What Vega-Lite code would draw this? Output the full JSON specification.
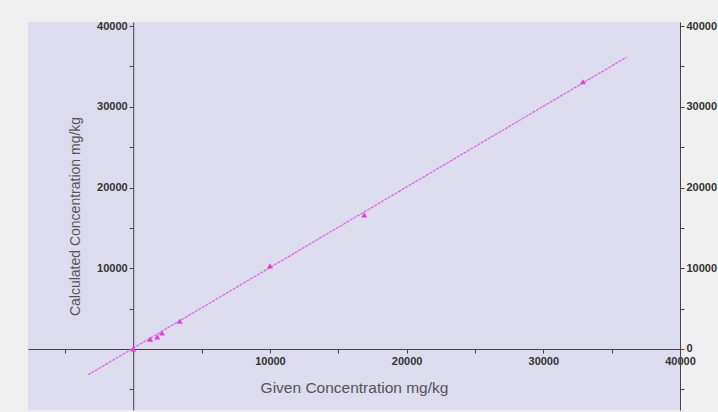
{
  "$schema": "https://vega.github.io/schema/vega-lite/v6.json",
  "width": 652,
  "height": 388,
  "autosize": {"type": "none"},
  "padding": {"left": 28, "top": 22, "right": 38, "bottom": 2},
  "background": "#efefef",
  "config": {
    "view": {"fill": "#dcdcee", "stroke": null},
    "axis": {
      "grid": false,
      "domainColor": "#444",
      "tickColor": "#444",
      "tickSize": 4,
      "labelFlush": false,
      "labelOverlap": false,
      "labelFont": "Liberation Sans",
      "labelFontWeight": "bold",
      "labelFontSize": 11,
      "labelColor": "#333",
      "titleFont": "Liberation Sans",
      "titleFontWeight": "normal",
      "titleFontSize": 14,
      "titleColor": "#555"
    }
  },
  "datasets": {
    "pts": [
      {"given": 0, "calc": 0},
      {"given": 1240, "calc": 1230},
      {"given": 1750, "calc": 1500},
      {"given": 2100, "calc": 2000},
      {"given": 3400, "calc": 3450},
      {"given": 10000, "calc": 10300},
      {"given": 16900, "calc": 16600},
      {"given": 32900, "calc": 33100}
    ],
    "fit": [
      {"given": -3300, "calc": -3200},
      {"given": 36100, "calc": 36150}
    ]
  },
  "layer": [
    {
      "data": {"name": "fit"},
      "mark": {"type": "line", "color": "#e060e0", "strokeWidth": 1.2, "strokeDash": [3, 1]},
      "encoding": {
        "x": {
          "field": "given", "type": "quantitative",
          "scale": {"domain": [-7700, 40000], "nice": false, "zero": false},
          "axis": {
            "orient": "bottom", "offset": -61,
            "title": "Given Concentration mg/kg",
            "titleFontSize": 15.5,
            "titlePadding": 14,
            "values": [-5000, 0, 5000, 10000, 15000, 20000, 25000, 30000, 35000, 40000],
            "format": "d",
            "labelExpr": "datum.value > 0 && datum.value % 10000 === 0 ? datum.label : ''"
          }
        },
        "y": {
          "field": "calc", "type": "quantitative",
          "scale": {"domain": [-7560, 40500], "nice": false, "zero": false},
          "axis": {
            "orient": "left", "offset": -105.2,
            "title": "Calculated Concentration mg/kg",
            "titlePadding": 14,
            "values": [-5000, 0, 5000, 10000, 15000, 20000, 25000, 30000, 35000, 40000],
            "format": "d",
            "labelExpr": "datum.value > 0 && datum.value % 10000 === 0 ? datum.label : ''"
          }
        }
      }
    },
    {
      "data": {"name": "pts"},
      "mark": {"type": "point", "filled": true, "shape": "triangle-up", "size": 36, "color": "#e040e0", "opacity": 1},
      "encoding": {
        "x": {"field": "given", "type": "quantitative"},
        "y": {
          "field": "calc", "type": "quantitative",
          "scale": {"domain": [-7560, 40500], "nice": false, "zero": false},
          "axis": {
            "orient": "right", "title": null,
            "labelPadding": 2,
            "values": [-5000, 0, 5000, 10000, 15000, 20000, 25000, 30000, 35000, 40000],
            "format": "d",
            "labelExpr": "datum.value >= 0 && datum.value % 10000 === 0 ? datum.label : ''"
          }
        }
      }
    }
  ],
  "resolve": {"scale": {"y": "independent"}, "axis": {"y": "independent"}}
}
